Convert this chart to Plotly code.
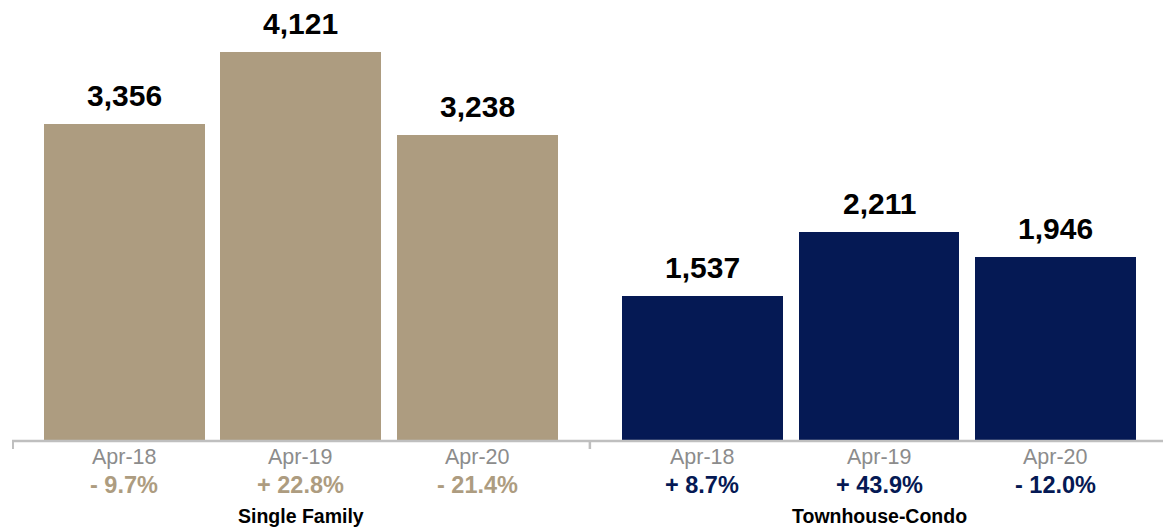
import plotly.graph_objects as go

groups = ["Single Family", "Townhouse-Condo"]
periods = ["Apr-18", "Apr-19", "Apr-20"]
single_family = [3356, 4121, 3238]
townhouse_condo = [1537, 2211, 1946]
sf_change = ["- 9.7%", "+ 22.8%", "- 21.4%"]
tc_change = ["+ 8.7%", "+ 43.9%", "- 12.0%"]

TAN = "rgb(173,156,128)"
NAVY = "rgb(5,25,84)"
FONT = "Liberation Sans, Arial, Helvetica, sans-serif"

group_offset = 3.275
series = [
    (single_family, sf_change, TAN, 0.0),
    (townhouse_condo, tc_change, NAVY, group_offset),
]

fig = go.Figure()
annotations = []
for gi, (vals, chg, color, off) in enumerate(series):
    xs = [off + i for i in range(len(vals))]
    fig.add_trace(go.Bar(x=xs, y=vals, width=0.912, marker=dict(color=color, line=dict(width=0)),
                         hoverinfo="skip", showlegend=False))
    for x, v, p, c in zip(xs, vals, periods, chg):
        annotations.append(dict(x=x, y=v, xref="x", yref="y", text=f"<b>{v:,}</b>", showarrow=False,
                                yanchor="bottom", yshift=10, font=dict(family=FONT, size=30, color="#000000")))
        annotations.append(dict(x=x, y=0, xref="x", yref="paper", text=p, showarrow=False,
                                yanchor="middle", yshift=-16, font=dict(family=FONT, size=21.5, color="#8c8c8c")))
        annotations.append(dict(x=x, y=0, xref="x", yref="paper", text=f"<b>{c}</b>", showarrow=False,
                                yanchor="middle", yshift=-44, font=dict(family=FONT, size=23.5, color=color)))
    annotations.append(dict(x=off + 1, y=0, xref="x", yref="paper", text=f"<b>{groups[gi]}</b>", showarrow=False,
                            yanchor="middle", yshift=-75, font=dict(family=FONT, size=19.5, color="#000000")))

x_left = -0.637
x_sep = 2.637
x_right = 5.884
shapes = [
    dict(type="line", xref="x", yref="paper", x0=x_left, x1=x_right, y0=0, y1=0,
         line=dict(color="#bfbfbf", width=2.5)),
]
for xt in (x_left + 0.004, x_sep):
    shapes.append(dict(type="line", xref="x", yref="paper", ysizemode="pixel", yanchor=0,
                       x0=xt, x1=xt, y0=0, y1=-8, line=dict(color="#bfbfbf", width=2.5)))

fig.update_layout(
    width=1163, height=528,
    margin=dict(l=12, r=0, t=0, b=87),
    plot_bgcolor="white", paper_bgcolor="white",
    xaxis=dict(range=[x_left, x_right], visible=False, fixedrange=True),
    yaxis=dict(range=[0, 4672], visible=False, fixedrange=True),
    bargap=0,
    hovermode=False,
    annotations=annotations,
    shapes=shapes,
)

fig.write_html("out.html", config={"displayModeBar": False, "staticPlot": True},
               post_script="document.body.style.margin='0px';document.body.style.overflow='hidden';")
